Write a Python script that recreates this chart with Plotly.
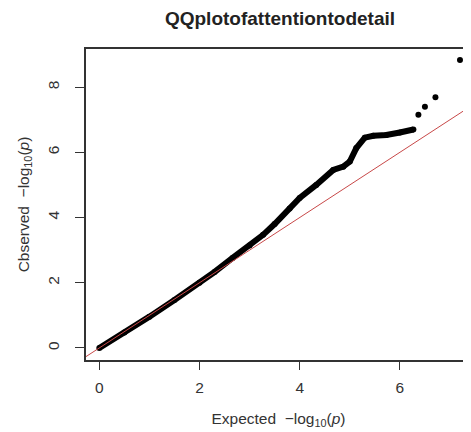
import plotly.graph_objects as go

band_expected = [0.0, 0.5, 1.0, 1.5, 2.0, 2.3, 2.66, 3.0, 3.27, 3.5, 3.8, 4.0, 4.33,
                 4.67, 4.87, 5.0, 5.13, 5.3, 5.47, 5.73, 6.0, 6.27]
band_observed = [0.0, 0.47, 0.96, 1.47, 2.0, 2.33, 2.76, 3.14, 3.47, 3.8, 4.28, 4.6, 5.0,
                 5.46, 5.56, 5.72, 6.13, 6.45, 6.51, 6.53, 6.61, 6.7]

# Isolated top hits
top_expected = [6.37, 6.5, 6.71, 7.2]
top_observed = [7.15, 7.4, 7.69, 8.83]

# Reference line y = x
ref_line = [-1, 9]

x_ticks = [0, 2, 4, 6]
y_ticks = [0, 2, 4, 6, 8]

FONT = "Liberation Sans, Arial, sans-serif"

# page body has an 8px margin; figure is sized/offset to compensate
W, H = 463, 424

fig = go.Figure()
fig.add_trace(go.Scatter(x=band_expected, y=band_observed, mode="lines+markers",
                         line=dict(color="black", width=6),
                         marker=dict(color="black", size=6),
                         hoverinfo="skip", showlegend=False))
fig.add_trace(go.Scatter(x=top_expected, y=top_observed, mode="markers",
                         marker=dict(color="black", size=6),
                         cliponaxis=False, showlegend=False))
fig.add_trace(go.Scatter(x=ref_line, y=ref_line, mode="lines",
                         line=dict(color="#c84848", width=1),
                         showlegend=False))

fig.update_layout(
    width=W, height=H,
    margin=dict(l=78, r=0, t=41, b=72, autoexpand=False),
    paper_bgcolor="white", plot_bgcolor="white",
    font=dict(family=FONT, color="#333333", size=15),
    title=dict(text="<b>QQplotofattentiontodetail</b>", x=272 / W, xanchor="center",
               y=1 - 10 / H, yanchor="middle",
               font=dict(family=FONT, size=19, color="#222222")),
    xaxis=dict(range=[-0.266, 7.42], tickvals=x_ticks, ticks="outside", ticklen=8,
               tickwidth=1.2, tickcolor="#333333", ticklabelstandoff=5,
               showline=True, linecolor="#333333", linewidth=1.5, mirror=True,
               showgrid=False, zeroline=False,
               tickfont=dict(size=15.5),
               title=dict(text="Expected  \u2212log<sub>10</sub>(<i>p</i>)",
                          font=dict(size=15.5), standoff=18)),
    yaxis=dict(range=[-0.37, 9.17], tickvals=y_ticks, ticks="outside", ticklen=9,
               tickwidth=1.2, tickcolor="#333333", tickangle=-90, ticklabelstandoff=10,
               showline=True, linecolor="#333333", linewidth=1.5, mirror=False,
               showgrid=False, zeroline=False,
               tickfont=dict(size=15.5),
               title=dict(text="Cbserved  \u2212log<sub>10</sub>(<i>p</i>)",
                          font=dict(size=15.5), standoff=12)),
)

fig.write_html("out.html")
